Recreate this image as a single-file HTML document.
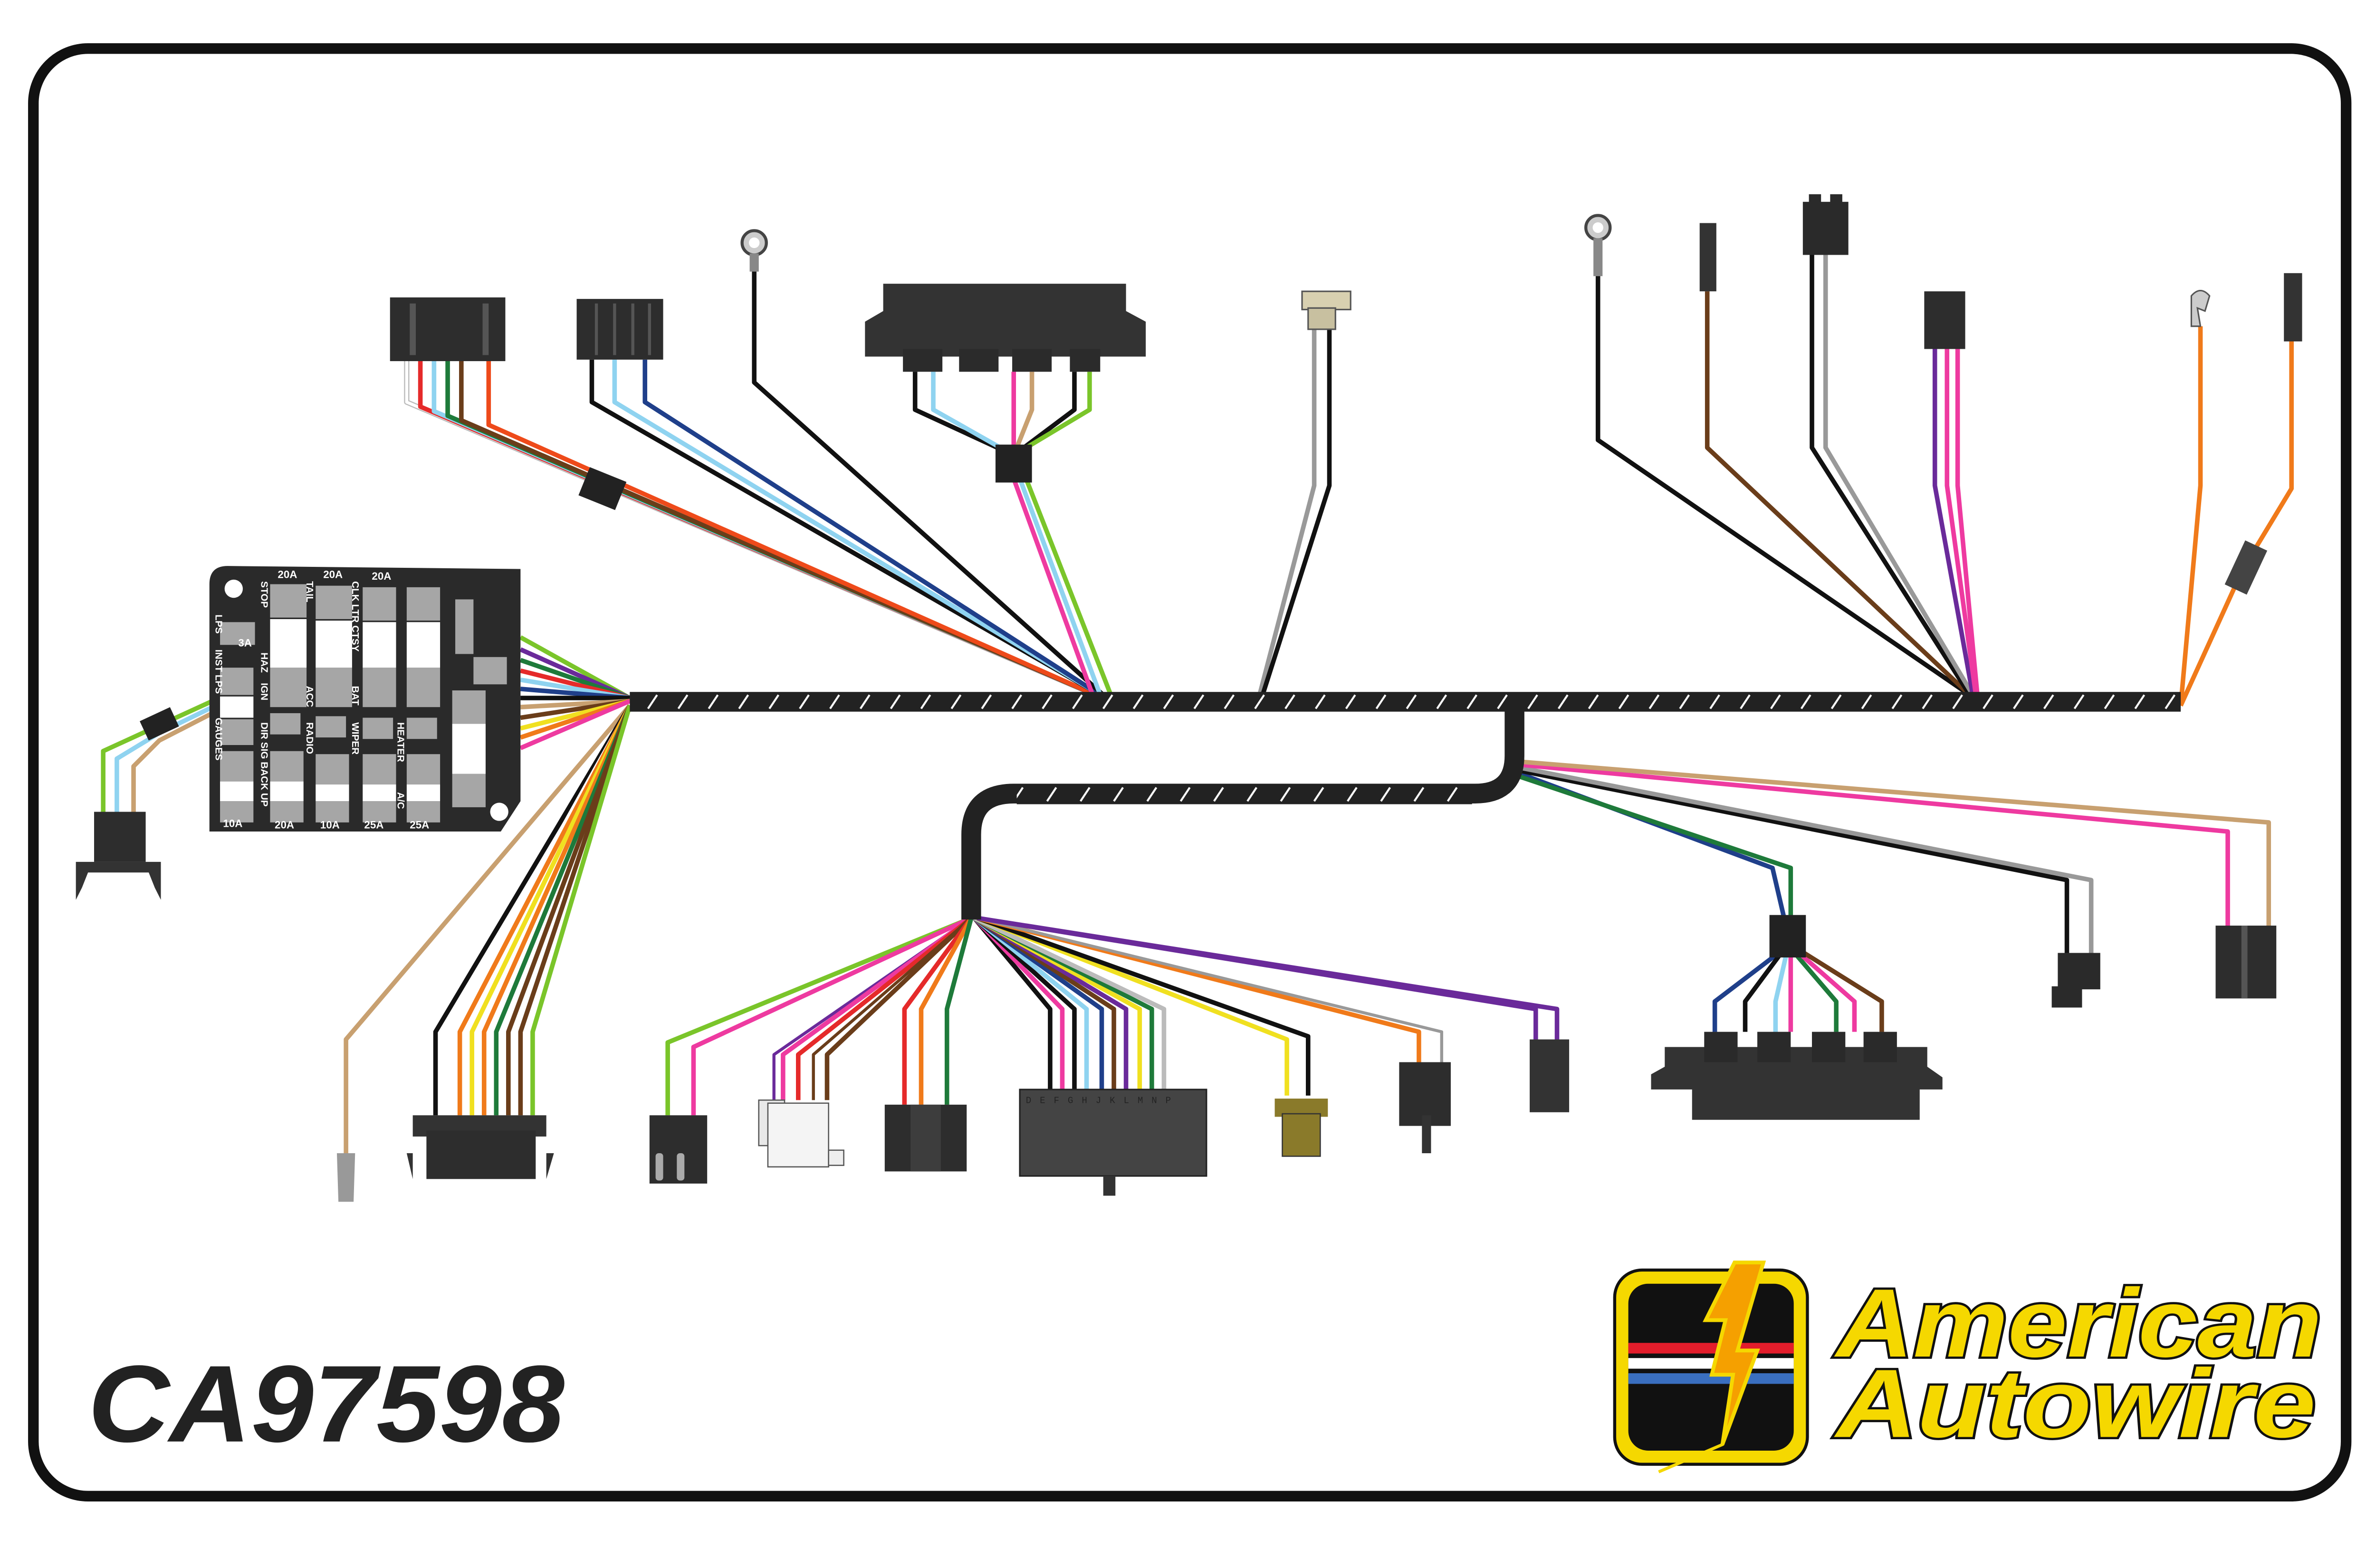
<!DOCTYPE html>
<html><head><meta charset="utf-8"><style>html,body{margin:0;padding:0;background:#fff;overflow:hidden}svg{display:block}</style></head>
<body>
<svg width="5100" height="3300" viewBox="0 0 1597 1033" preserveAspectRatio="xMinYMin meet" xmlns="http://www.w3.org/2000/svg">
<defs>
<pattern id="tk" patternUnits="userSpaceOnUse" x="0" y="456" width="20" height="13">
<rect width="20" height="13" fill="#222"/><line x1="7" y1="11" x2="13" y2="2" stroke="#fff" stroke-width="1.3"/>
</pattern>
<pattern id="tk2" patternUnits="userSpaceOnUse" x="0" y="517" width="22" height="13">
<rect width="22" height="13" fill="#222"/><line x1="8" y1="11" x2="14" y2="2" stroke="#fff" stroke-width="1.3"/>
</pattern>
</defs>
<rect x="0" y="0" width="1597" height="1033" fill="#fff"/>
<rect x="22" y="32" width="1524" height="954" rx="36" fill="none" stroke="#111" stroke-width="7"/>

<g fill="none" stroke-width="3" stroke-linejoin="round">
<polyline points="268,238 268,265 722,458" stroke="#bbb" stroke-width="3.5"/>
<polyline points="268,238 268,265 722,458" stroke="#fff" stroke-width="2"/>
<polyline points="277,238 277,268 722,458" stroke="#e52a2a"/>
<polyline points="286,238 286,271 722,458" stroke="#8fd3f0"/>
<polyline points="295,238 295,274 722,458" stroke="#1e7a3a"/>
<polyline points="304,238 304,277 722,458" stroke="#6a3d1a"/>
<polyline points="322,238 322,280 722,458" stroke="#ee4a1a"/>
<polyline points="390,237 390,265 725,458" stroke="#111"/>
<polyline points="405,237 405,265 725,458" stroke="#8fd3f0"/>
<polyline points="425,237 425,265 725,458" stroke="#1f3f8a"/>
<polyline points="497,170 497,252 727,458" stroke="#111"/>
<polyline points="603,245 603,270 668,300" stroke="#111"/>
<polyline points="615,245 615,270 668,300" stroke="#8fd3f0"/>
<polyline points="668,245 668,270 668,300" stroke="#ee3aa0"/>
<polyline points="680,245 680,270 668,300" stroke="#c8a070"/>
<polyline points="708,245 708,270 668,300" stroke="#111"/>
<polyline points="718,245 718,270 668,300" stroke="#7ac52a"/>
<polyline points="666,310 720,458" stroke="#ee3aa0"/>
<polyline points="670,310 725,458" stroke="#8fd3f0"/>
<polyline points="674,310 732,458" stroke="#7ac52a"/>
<polyline points="866,215 866,320 830,458" stroke="#999"/>
<polyline points="876,215 876,320 832,458" stroke="#111"/>
<polyline points="1053,160 1053,290 1298,458" stroke="#111"/>
<polyline points="1125,192 1125,295 1298,458" stroke="#6a3d1a"/>
<polyline points="1194,168 1194,295 1298,458" stroke="#111"/>
<polyline points="1203,168 1203,295 1300,458" stroke="#999"/>
<polyline points="1275,230 1275,320 1300,458" stroke="#6a2a9a"/>
<polyline points="1283,230 1283,320 1302,458" stroke="#ee3aa0"/>
<polyline points="1290,230 1290,320 1303,458" stroke="#ee3aa0"/>
<polyline points="1450,215 1450,320 1437,465" stroke="#f07a1a"/>
<polyline points="1510,225 1510,322 1478,375 1437,465" stroke="#f07a1a"/>
<polyline points="343,420 415,460" stroke="#7ac52a"/>
<polyline points="343,428 415,460" stroke="#6a2a9a"/>
<polyline points="343,435 415,460" stroke="#1e7a3a"/>
<polyline points="343,442 415,460" stroke="#e52a2a"/>
<polyline points="343,448 415,460" stroke="#8fd3f0"/>
<polyline points="343,454 415,460" stroke="#1f3f8a"/>
<polyline points="343,460 415,460" stroke="#111"/>
<polyline points="343,466 415,462" stroke="#c8a070"/>
<polyline points="343,473 415,462" stroke="#6a3d1a"/>
<polyline points="343,480 415,462" stroke="#f0e020"/>
<polyline points="343,486 415,462" stroke="#f07a1a"/>
<polyline points="343,493 415,462" stroke="#ee3aa0"/>
<polyline points="140,462 105,478 68,495 68,538" stroke="#7ac52a"/>
<polyline points="140,466 105,483 77,500 77,538" stroke="#8fd3f0"/>
<polyline points="140,470 105,488 88,505 88,538" stroke="#c8a070"/>
<polyline points="415,465 228,685 228,760" stroke="#c8a070"/>
<polyline points="415,465 287,680 287,735" stroke="#111"/>
<polyline points="415,465 295,680 295,735" stroke="#fff" stroke-width="2"/>
<polyline points="415,465 303,680 303,735" stroke="#f07a1a"/>
<polyline points="415,465 311,680 311,735" stroke="#f0e020"/>
<polyline points="415,465 319,680 319,735" stroke="#f07a1a"/>
<polyline points="415,465 327,680 327,735" stroke="#1e7a3a"/>
<polyline points="415,465 335,680 335,735" stroke="#6a3d1a"/>
<polyline points="415,465 343,680 343,735" stroke="#6a3d1a"/>
<polyline points="415,465 351,680 351,735" stroke="#7ac52a"/>
<polyline points="640,605 440,687 440,735" stroke="#7ac52a"/>
<polyline points="640,605 457,690 457,735" stroke="#ee3aa0"/>
<polyline points="640,605 510,695 510,725" stroke="#6a2a9a" stroke-width="2"/>
<polyline points="640,605 516,695 516,725" stroke="#ee3aa0"/>
<polyline points="640,605 526,695 526,725" stroke="#e52a2a"/>
<polyline points="640,605 536,695 536,725" stroke="#6a3d1a" stroke-width="2"/>
<polyline points="640,605 545,695 545,725" stroke="#6a3d1a"/>
<polyline points="640,605 596,665 596,728" stroke="#e52a2a"/>
<polyline points="640,605 607,665 607,728" stroke="#f07a1a"/>
<polyline points="640,605 624,665 624,728" stroke="#1e7a3a"/>
<polyline points="642,605 692,665 692,718" stroke="#111"/>
<polyline points="642,605 700,665 700,718" stroke="#ee3aa0"/>
<polyline points="642,605 708,665 708,718" stroke="#111"/>
<polyline points="642,605 716,665 716,718" stroke="#8fd3f0"/>
<polyline points="642,605 726,665 726,718" stroke="#1f3f8a"/>
<polyline points="642,605 734,665 734,718" stroke="#6a3d1a"/>
<polyline points="642,605 742,665 742,718" stroke="#6a2a9a"/>
<polyline points="642,605 751,665 751,718" stroke="#f0e020"/>
<polyline points="642,605 759,665 759,718" stroke="#1e7a3a"/>
<polyline points="642,605 767,665 767,718" stroke="#bbb"/>
<polyline points="644,605 848,685 848,722" stroke="#f0e020"/>
<polyline points="644,605 862,683 862,722" stroke="#111"/>
<polyline points="644,605 935,680 935,700" stroke="#f07a1a"/>
<polyline points="644,605 950,680 950,700" stroke="#999" stroke-width="2"/>
<polyline points="644,605 1012,665 1012,685" stroke="#6a2a9a"/>
<polyline points="644,605 1026,665 1026,685" stroke="#6a2a9a"/>
<polyline points="1002,510 1168,572 1178,615" stroke="#1f3f8a"/>
<polyline points="1002,512 1180,572 1180,615" stroke="#1e7a3a"/>
<polyline points="1176,625 1130,660 1130,680" stroke="#1f3f8a"/>
<polyline points="1176,625 1150,660 1150,680" stroke="#111"/>
<polyline points="1178,625 1170,660 1170,680" stroke="#8fd3f0"/>
<polyline points="1180,625 1180,660 1180,680" stroke="#ee3aa0"/>
<polyline points="1180,625 1210,660 1210,680" stroke="#1e7a3a"/>
<polyline points="1182,625 1222,660 1222,680" stroke="#ee3aa0"/>
<polyline points="1184,625 1240,660 1240,680" stroke="#6a3d1a"/>
<polyline points="1002,508 1362,580 1362,628" stroke="#111"/>
<polyline points="1002,506 1378,580 1378,628" stroke="#999"/>
<polyline points="1002,504 1468,548 1468,612" stroke="#ee3aa0"/>
<polyline points="1002,502 1495,542 1495,612" stroke="#c8a070"/>
</g>

<path d="M998,462 L998,498 Q998,523 972,523 L668,523 Q640,523 640,550 L640,606" fill="none" stroke="#222" stroke-width="13"/>
<rect x="415" y="456" width="1022" height="13" fill="url(#tk)"/>
<rect x="670" y="517" width="300" height="13" fill="url(#tk2)"/>

<rect x="384" y="312" width="26" height="20" fill="#222" transform="rotate(22 397 322)"/>
<rect x="94" y="470" width="22" height="14" fill="#222" transform="rotate(-25 105 477)"/>
<rect x="656" y="293" width="24" height="25" fill="#222"/>
<rect x="1166" y="603" width="24" height="28" fill="#222"/>

<rect x="257" y="196" width="76" height="42" fill="#2d2d2d"/>
<rect x="270" y="200" width="4" height="34" fill="#555"/><rect x="318" y="200" width="4" height="34" fill="#555"/>
<rect x="380" y="197" width="57" height="40" fill="#2d2d2d"/>
<g fill="#555"><rect x="392" y="200" width="2" height="34"/><rect x="404" y="200" width="2" height="34"/><rect x="416" y="200" width="2" height="34"/><rect x="427" y="200" width="2" height="34"/></g>
<circle cx="497" cy="160" r="8" fill="#ccc" stroke="#444" stroke-width="2"/><circle cx="497" cy="160" r="3.5" fill="#fff"/>
<rect x="494" y="167" width="6" height="12" fill="#888"/>
<path d="M582,187 L742,187 L742,205 L755,212 L755,235 L570,235 L570,212 L582,205 Z" fill="#333"/>
<g fill="#2b2b2b"><rect x="595" y="230" width="26" height="15"/><rect x="632" y="230" width="26" height="15"/><rect x="667" y="230" width="26" height="15"/><rect x="705" y="230" width="20" height="15"/></g>
<rect x="858" y="192" width="32" height="12" fill="#d8d0b0" stroke="#555"/><rect x="862" y="203" width="18" height="14" fill="#c8c0a0" stroke="#555"/>
<circle cx="1053" cy="150" r="8" fill="#ccc" stroke="#444" stroke-width="2"/><circle cx="1053" cy="150" r="3.5" fill="#fff"/>
<rect x="1050" y="157" width="6" height="25" fill="#888"/>
<rect x="1120" y="147" width="11" height="45" fill="#333"/>
<rect x="1188" y="133" width="30" height="35" fill="#2a2a2a"/><rect x="1192" y="128" width="8" height="8" fill="#2a2a2a"/><rect x="1206" y="128" width="8" height="8" fill="#2a2a2a"/>
<rect x="1268" y="192" width="27" height="38" fill="#2d2d2d"/>
<path d="M1444,215 L1444,195 Q1450,188 1456,195 L1453,205 L1448,203 L1450,215 Z" fill="#ccc" stroke="#555"/>
<rect x="1505" y="180" width="12" height="45" fill="#333"/>
<rect x="1472" y="358" width="16" height="32" fill="#444" transform="rotate(25 1480 374)"/>

<path d="M150,373 L343,375 L343,528 L330,548 L138,548 L138,385 Q138,373 150,373 Z" fill="#2a2a2a"/>
<circle cx="154" cy="388" r="6" fill="#fff"/><circle cx="329" cy="535" r="6" fill="#fff"/>
<g fill="#a6a6a6">
<rect x="178" y="385" width="24" height="22"/><rect x="178" y="440" width="24" height="26"/>
<rect x="208" y="386" width="24" height="22"/><rect x="208" y="440" width="24" height="26"/>
<rect x="239" y="387" width="22" height="22"/><rect x="239" y="440" width="22" height="26"/>
<rect x="268" y="387" width="22" height="22"/><rect x="268" y="440" width="22" height="26"/>
<rect x="145" y="410" width="23" height="15"/><rect x="145" y="440" width="22" height="18"/><rect x="145" y="474" width="22" height="17"/>
<rect x="178" y="470" width="20" height="14"/><rect x="208" y="472" width="20" height="14"/><rect x="239" y="473" width="20" height="14"/><rect x="268" y="473" width="20" height="14"/>
<rect x="145" y="495" width="22" height="20"/>
<rect x="178" y="495" width="22" height="20"/><rect x="208" y="497" width="22" height="20"/><rect x="239" y="497" width="22" height="20"/><rect x="268" y="497" width="22" height="20"/>
<rect x="145" y="528" width="22" height="14"/><rect x="178" y="528" width="22" height="14"/><rect x="208" y="528" width="22" height="14"/><rect x="239" y="528" width="22" height="14"/><rect x="268" y="528" width="22" height="14"/>
<rect x="300" y="395" width="12" height="36"/><rect x="312" y="433" width="22" height="18"/><rect x="298" y="455" width="22" height="22"/><rect x="298" y="510" width="22" height="22"/>
</g>
<g fill="#fff">
<rect x="178" y="408" width="24" height="32"/><rect x="208" y="409" width="24" height="31"/><rect x="239" y="410" width="22" height="30"/><rect x="268" y="410" width="22" height="30"/>
<rect x="145" y="459" width="22" height="14"/>
<rect x="145" y="515" width="22" height="13"/><rect x="178" y="515" width="22" height="13"/><rect x="208" y="517" width="22" height="11"/><rect x="239" y="517" width="22" height="11"/><rect x="268" y="517" width="22" height="11"/>
<rect x="298" y="477" width="22" height="33"/>
</g>
<g font-family="Liberation Sans, sans-serif" font-weight="bold" font-size="7" fill="#fff">
<text x="183" y="381">20A</text><text x="213" y="381">20A</text><text x="245" y="382">20A</text>
<text x="157" y="426">3A</text>
<text x="147" y="545">10A</text><text x="181" y="546">20A</text><text x="211" y="546">10A</text><text x="240" y="546">25A</text><text x="270" y="546">25A</text>
<g font-size="6.5">
<text transform="translate(172,383) rotate(90)">STOP</text>
<text transform="translate(202,383) rotate(90)">TAIL</text>
<text transform="translate(232,383) rotate(90)">CLK LTR CTSY</text>
<text transform="translate(142,405) rotate(90)">LPS</text>
<text transform="translate(142,428) rotate(90)">INST LPS</text>
<text transform="translate(172,430) rotate(90)">HAZ</text>
<text transform="translate(172,450) rotate(90)">IGN</text>
<text transform="translate(202,452) rotate(90)">ACC</text>
<text transform="translate(232,452) rotate(90)">BAT</text>
<text transform="translate(142,473) rotate(90)">GAUGES</text>
<text transform="translate(172,476) rotate(90)">DIR SIG  BACK UP</text>
<text transform="translate(202,476) rotate(90)">RADIO</text>
<text transform="translate(232,476) rotate(90)">WIPER</text>
<text transform="translate(262,476) rotate(90)">HEATER</text>
<text transform="translate(262,522) rotate(90)">A/C</text>
</g></g>

<rect x="62" y="535" width="34" height="33" fill="#2d2d2d"/>
<path d="M50,568 L106,568 L106,593 L102,585 L98,575 L58,575 L54,585 L50,593 Z" fill="#333"/>

<path d="M222,760 L234,760 L233,792 L223,792 Z" fill="#999"/>
<rect x="272" y="735" width="88" height="14" fill="#333"/><rect x="281" y="745" width="72" height="32" fill="#2d2d2d"/>
<path d="M268,760 L272,760 L272,777 Z" fill="#333"/><path d="M360,760 L365,760 L360,777 Z" fill="#333"/>
<rect x="428" y="735" width="38" height="45" fill="#2d2d2d"/><rect x="432" y="760" width="5" height="18" fill="#aaa" rx="2"/><rect x="446" y="760" width="5" height="18" fill="#aaa" rx="2"/>
<rect x="500" y="725" width="17" height="30" fill="#e8e8e8" stroke="#555" stroke-width="0.8"/><rect x="506" y="727" width="40" height="42" fill="#f4f4f4" stroke="#555" stroke-width="0.8"/><rect x="546" y="758" width="10" height="10" fill="#eee" stroke="#555" stroke-width="0.8"/>
<rect x="583" y="728" width="54" height="44" fill="#2d2d2d"/><rect x="600" y="728" width="20" height="44" fill="#3d3d3d"/>
<rect x="672" y="718" width="123" height="57" fill="#444" stroke="#222"/><rect x="727" y="775" width="8" height="13" fill="#333"/>
<text x="676" y="727" font-family="Liberation Mono, monospace" font-size="6" fill="#222" letter-spacing="5.6">DEFGHJKLMNP</text>
<rect x="840" y="724" width="35" height="12" fill="#8a7a2a"/><rect x="845" y="734" width="25" height="28" fill="#8a7a2a" stroke="#333" stroke-width="0.8"/>
<rect x="922" y="700" width="34" height="42" fill="#2d2d2d"/><rect x="937" y="735" width="6" height="25" fill="#333"/>
<rect x="1008" y="685" width="26" height="48" fill="#333"/>
<path d="M1097,690 L1270,690 L1270,703 L1280,710 L1280,718 L1265,718 L1265,738 L1115,738 L1115,718 L1088,718 L1088,708 L1097,703 Z" fill="#333"/>
<g fill="#2a2a2a"><rect x="1123" y="680" width="22" height="20"/><rect x="1158" y="680" width="22" height="20"/><rect x="1194" y="680" width="22" height="20"/><rect x="1228" y="680" width="22" height="20"/></g>
<rect x="1356" y="628" width="28" height="24" fill="#2a2a2a"/><rect x="1352" y="650" width="20" height="14" fill="#2a2a2a"/>
<rect x="1460" y="610" width="40" height="48" fill="#2d2d2d"/><rect x="1477" y="610" width="4" height="48" fill="#555"/>

<text x="58" y="950" font-family="Liberation Sans, sans-serif" font-weight="bold" font-style="italic" font-size="72" fill="#222" textLength="314" lengthAdjust="spacingAndGlyphs">CA97598</text>

<rect x="1064" y="837" width="127" height="128" rx="18" fill="#f5d800" stroke="#111" stroke-width="2"/>
<rect x="1072" y="845" width="111" height="112" rx="14" fill="#111" stroke="#f5d800" stroke-width="2"/>
<rect x="1073" y="885" width="109" height="7" fill="#e31d2b"/>
<rect x="1073" y="895" width="109" height="7" fill="#fff"/>
<rect x="1073" y="905" width="109" height="7" fill="#3a6fc0"/>
<path d="M1143,832 L1162,832 L1145,890 L1158,890 L1135,952 L1142,906 L1128,906 L1137,870 L1124,870 Z" fill="#f5a000" stroke="#f5d800" stroke-width="2.5"/>
<path d="M1093,970 L1135,952 L1142,906" fill="none" stroke="#f5d800" stroke-width="2"/>
<g font-family="Liberation Sans, sans-serif" font-weight="bold" font-style="italic" font-size="64" fill="#f5d800" stroke="#111" stroke-width="3" paint-order="stroke">
<text x="1210" y="894" textLength="320" lengthAdjust="spacingAndGlyphs">American</text>
<text x="1210" y="947" textLength="316" lengthAdjust="spacingAndGlyphs">Autowire</text>
</g>
</svg>
</body></html>
